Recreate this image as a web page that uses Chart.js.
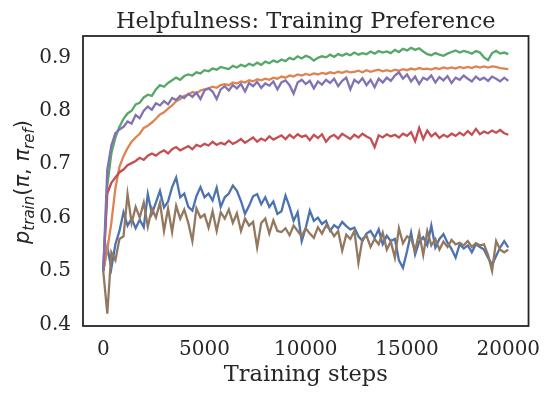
<!DOCTYPE html>
<html>
<head>
<meta charset="utf-8">
<script src="https://cdn.jsdelivr.net/npm/chart.js@4.4.1/dist/chart.umd.min.js"></script>
<style>
html, body { margin: 0; padding: 0; background: #fff; }
canvas { display: block; }
</style>
</head>
<body>
<canvas id="prefChart" width="553" height="395"></canvas>
<script>
// Training steps (x) shared by every run
const steps = [
    0, 200, 400, 600, 800, 1000, 1200, 1400, 1600, 1800,
    2000, 2200, 2400, 2600, 2800, 3000, 3200, 3400, 3600, 3800,
    4000, 4200, 4400, 4600, 4800, 5000, 5200, 5400, 5600, 5800,
    6000, 6200, 6400, 6600, 6800, 7000, 7200, 7400, 7600, 7800,
    8000, 8200, 8400, 8600, 8800, 9000, 9200, 9400, 9600, 9800,
    10000, 10200, 10400, 10600, 10800, 11000, 11200, 11400, 11600, 11800,
    12000, 12200, 12400, 12600, 12800, 13000, 13200, 13400, 13600, 13800,
    14000, 14200, 14400, 14600, 14800, 15000, 15200, 15400, 15600, 15800,
    16000, 16200, 16400, 16600, 16800, 17000, 17200, 17400, 17600, 17800,
    18000, 18200, 18400, 18600, 18800, 19000, 19200, 19400, 19600, 19800,
    20000
];

const seriesBlue = [
    0.500, 0.545, 0.505, 0.550, 0.575, 0.610, 0.585, 0.598, 0.580, 0.596,
    0.582, 0.644, 0.607, 0.628, 0.650, 0.619, 0.630, 0.657, 0.675, 0.638,
    0.645, 0.620, 0.613, 0.640, 0.657, 0.638, 0.645, 0.632, 0.656, 0.620,
    0.638, 0.645, 0.660, 0.650, 0.631, 0.607, 0.622, 0.640, 0.644, 0.625,
    0.638, 0.620, 0.630, 0.607, 0.612, 0.641, 0.620, 0.594, 0.610, 0.556,
    0.581, 0.613, 0.594, 0.600, 0.588, 0.594, 0.575, 0.586, 0.580, 0.592,
    0.584, 0.578, 0.581, 0.565, 0.556, 0.570, 0.575, 0.562, 0.578, 0.550,
    0.566, 0.556, 0.560, 0.520, 0.506, 0.537, 0.572, 0.531, 0.555, 0.563,
    0.548, 0.585, 0.544, 0.560, 0.569, 0.553, 0.541, 0.525, 0.550, 0.542,
    0.548, 0.535, 0.550, 0.545, 0.540, 0.525, 0.512, 0.528, 0.544, 0.556,
    0.544
];

const seriesOrange = [
    0.500, 0.540, 0.590, 0.655, 0.695, 0.715, 0.730, 0.742, 0.750, 0.757,
    0.768, 0.772, 0.778, 0.785, 0.793, 0.797, 0.804, 0.810, 0.818, 0.822,
    0.828, 0.830, 0.835, 0.833, 0.838, 0.840, 0.842, 0.845, 0.843, 0.848,
    0.850, 0.848, 0.853, 0.851, 0.855, 0.853, 0.857, 0.855, 0.859, 0.857,
    0.860, 0.858, 0.862, 0.860, 0.864, 0.862, 0.866, 0.864, 0.868, 0.866,
    0.869, 0.867, 0.870, 0.868, 0.871, 0.869, 0.872, 0.870, 0.873, 0.871,
    0.874, 0.872, 0.873, 0.875, 0.872, 0.876, 0.873, 0.875, 0.877, 0.874,
    0.876, 0.874, 0.877, 0.875, 0.878, 0.876, 0.879, 0.877, 0.880, 0.878,
    0.879, 0.877, 0.880, 0.878, 0.881, 0.879, 0.881, 0.879, 0.882, 0.880,
    0.882, 0.880, 0.883, 0.881, 0.883, 0.881, 0.883, 0.882, 0.880, 0.879,
    0.878
];

const seriesGreen = [
    0.500, 0.660, 0.720, 0.750, 0.770, 0.785, 0.795, 0.800, 0.812, 0.815,
    0.825, 0.830, 0.828, 0.840, 0.848, 0.845, 0.852, 0.857, 0.862, 0.858,
    0.865, 0.868, 0.866, 0.872, 0.870, 0.876, 0.874, 0.879, 0.877, 0.882,
    0.880, 0.878, 0.884, 0.881, 0.886, 0.883, 0.888, 0.885, 0.890, 0.886,
    0.892, 0.889, 0.894, 0.891, 0.896, 0.893, 0.899, 0.896, 0.902, 0.898,
    0.903, 0.900, 0.894, 0.899, 0.902, 0.900, 0.905, 0.901, 0.906, 0.903,
    0.907, 0.904, 0.909, 0.905, 0.908, 0.906, 0.911, 0.907, 0.912, 0.909,
    0.911, 0.908, 0.914, 0.910, 0.916, 0.913, 0.918, 0.914, 0.917, 0.911,
    0.906, 0.904, 0.908, 0.905, 0.903, 0.907, 0.910, 0.913, 0.909, 0.912,
    0.910, 0.907, 0.912, 0.909, 0.900, 0.895, 0.908, 0.912, 0.907, 0.909,
    0.906
];

const seriesRed = [
    0.500, 0.645, 0.665, 0.675, 0.685, 0.690, 0.698, 0.702, 0.706, 0.712,
    0.708, 0.716, 0.720, 0.716, 0.722, 0.726, 0.720, 0.728, 0.732, 0.726,
    0.730, 0.734, 0.728, 0.736, 0.733, 0.738, 0.735, 0.742, 0.736, 0.740,
    0.737, 0.744, 0.738, 0.742, 0.747, 0.740, 0.745, 0.750, 0.742, 0.748,
    0.744, 0.752, 0.746, 0.750, 0.754, 0.747, 0.755, 0.749, 0.756, 0.751,
    0.754, 0.745, 0.755, 0.749, 0.756, 0.742, 0.751, 0.755, 0.748, 0.757,
    0.752, 0.747, 0.755, 0.750, 0.757, 0.752, 0.748, 0.732, 0.754, 0.750,
    0.756, 0.752, 0.755, 0.750, 0.757, 0.753, 0.760, 0.743, 0.768, 0.747,
    0.763, 0.752, 0.758, 0.749, 0.755, 0.751, 0.757, 0.753, 0.759, 0.754,
    0.762, 0.755, 0.766, 0.756, 0.761, 0.758, 0.763, 0.759, 0.764, 0.758,
    0.755
];

const seriesPurple = [
    0.500, 0.690, 0.735, 0.758, 0.765, 0.770, 0.780, 0.776, 0.792, 0.786,
    0.800, 0.808, 0.802, 0.814, 0.810, 0.818, 0.812, 0.824, 0.820, 0.828,
    0.824, 0.832, 0.826, 0.834, 0.822, 0.838, 0.842, 0.836, 0.822, 0.840,
    0.846, 0.838, 0.848, 0.842, 0.850, 0.836, 0.852, 0.846, 0.854, 0.843,
    0.851, 0.847, 0.855, 0.840, 0.853, 0.857, 0.848, 0.832, 0.853, 0.858,
    0.850, 0.856, 0.842, 0.855, 0.849, 0.858, 0.852, 0.860, 0.846, 0.856,
    0.862, 0.840, 0.858, 0.852, 0.861, 0.848, 0.858, 0.844, 0.860, 0.853,
    0.862, 0.856, 0.866, 0.872, 0.860, 0.868, 0.855, 0.864, 0.850, 0.862,
    0.858, 0.866, 0.853, 0.863, 0.857, 0.865, 0.852, 0.862, 0.858, 0.866,
    0.860, 0.855, 0.864, 0.858, 0.862, 0.856, 0.864, 0.860, 0.855, 0.862,
    0.856
];

const seriesBrown = [
    0.500, 0.420, 0.535, 0.520, 0.560, 0.565, 0.644, 0.590, 0.620, 0.600,
    0.628, 0.583, 0.617, 0.600, 0.628, 0.575, 0.617, 0.573, 0.622, 0.598,
    0.615, 0.590, 0.556, 0.617, 0.600, 0.606, 0.581, 0.612, 0.575, 0.610,
    0.598, 0.615, 0.590, 0.608, 0.575, 0.598, 0.585, 0.592, 0.544, 0.590,
    0.598, 0.570, 0.595, 0.575, 0.573, 0.580, 0.567, 0.585, 0.575, 0.565,
    0.580, 0.570, 0.562, 0.582, 0.570, 0.585, 0.578, 0.565, 0.575, 0.538,
    0.568, 0.560, 0.575, 0.515, 0.560, 0.566, 0.545, 0.560, 0.550, 0.572,
    0.540, 0.555, 0.525, 0.580, 0.552, 0.565, 0.560, 0.538, 0.572, 0.530,
    0.575, 0.548, 0.560, 0.540, 0.555, 0.545, 0.558, 0.550, 0.553, 0.548,
    0.556, 0.545, 0.552, 0.548, 0.550, 0.530, 0.500, 0.556, 0.540, 0.535,
    0.540
];

const xTicks = [0, 5000, 10000, 15000, 20000];
const yTicks = [0.4, 0.5, 0.6, 0.7, 0.8, 0.9];

const titleText = 'Helpfulness: Training Preference';
const xLabel = 'Training steps';

// seaborn "deep" palette, in plotting order
const runs = [
    { values: seriesBlue,   color: '#4C72B0' },
    { values: seriesOrange, color: '#DD8452' },
    { values: seriesGreen,  color: '#55A868' },
    { values: seriesRed,    color: '#C44E52' },
    { values: seriesPurple, color: '#8172B3' },
    { values: seriesBrown,  color: '#937860' }
];

const textColor = '#262626';

// frame, title, axis labels (y label has math-style subscripts)
const frameAndLabels = {
    id: 'frameAndLabels',
    afterDraw(chart) {
        const { ctx, chartArea: a } = chart;
        ctx.save();
        ctx.strokeStyle = textColor;
        ctx.lineWidth = 1.8;
        ctx.strokeRect(a.left, a.top, a.right - a.left, a.bottom - a.top);

        ctx.fillStyle = textColor;
        ctx.textAlign = 'center';
        ctx.textBaseline = 'alphabetic';
        const cx = (a.left + a.right) / 2;
        ctx.font = '22.5px "DejaVu Serif"';
        ctx.fillText(titleText, cx, 28);
        ctx.font = '22.5px "DejaVu Serif"';
        ctx.fillText(xLabel, cx, 381);

        const big = 21, small = 15;
        const parts = [
            ['p', 'italic ' + big + 'px "DejaVu Sans"', 0],
            ['train', 'italic ' + small + 'px "DejaVu Sans"', 5],
            ['(', big + 'px "DejaVu Sans"', 0],
            ['\u03C0', 'italic ' + big + 'px "DejaVu Sans"', 0],
            [', ', big + 'px "DejaVu Sans"', 0],
            ['\u03C0', 'italic ' + big + 'px "DejaVu Sans"', 0],
            ['ref', 'italic ' + small + 'px "DejaVu Sans"', 5],
            [')', big + 'px "DejaVu Sans"', 0]
        ];
        let total = 0;
        parts.forEach(p => {
            ctx.font = p[1];
            total += ctx.measureText(p[0]).width;
        });
        ctx.translate(28.5, (a.top + a.bottom) / 2 + 1);
        ctx.rotate(-Math.PI / 2);
        ctx.textAlign = 'left';
        let x = -total / 2;
        parts.forEach(p => {
            ctx.font = p[1];
            ctx.fillText(p[0], x, p[2]);
            x += ctx.measureText(p[0]).width;
        });
        ctx.restore();
    }
};

const ctx = document.getElementById('prefChart').getContext('2d');
new Chart(ctx, {
    type: 'line',
    data: {
        datasets: runs.map((r, i) => ({
            data: steps.map((s, j) => ({ x: s, y: r.values[j] })),
            borderColor: r.color,
            backgroundColor: r.color,
            borderWidth: 2.3,
            pointRadius: 0,
            tension: 0,
            fill: false,
            order: runs.length - 1 - i
        }))
    },
    options: {
        responsive: false,
        animation: false,
        devicePixelRatio: 1,
        layout: {
            padding: { left: 0, right: 20, top: 36, bottom: 0 }
        },
        plugins: {
            legend: { display: false },
            tooltip: { enabled: false },
            title: { display: false }
        },
        scales: {
            x: {
                type: 'linear',
                min: -1000,
                max: 21000,
                grid: { display: false, drawTicks: false },
                border: { display: false },
                afterBuildTicks: scale => {
                    scale.ticks = xTicks.map(v => ({ value: v }));
                },
                afterFit: scale => { scale.height = 69; },
                ticks: {
                    color: textColor,
                    font: { family: 'DejaVu Serif', size: 20 },
                    padding: 12,
                    maxRotation: 0,
                    callback: v => String(v)
                }
            },
            y: {
                min: 0.397,
                max: 0.94,
                grid: { display: false, drawTicks: false },
                border: { display: false },
                afterBuildTicks: scale => {
                    scale.ticks = yTicks.map(v => ({ value: v }));
                },
                afterFit: scale => { scale.width = 83; },
                ticks: {
                    color: textColor,
                    font: { family: 'DejaVu Serif', size: 20 },
                    padding: 12,
                    callback: v => v.toFixed(1)
                }
            }
        }
    },
    plugins: [frameAndLabels]
});
</script>
</body>
</html>
